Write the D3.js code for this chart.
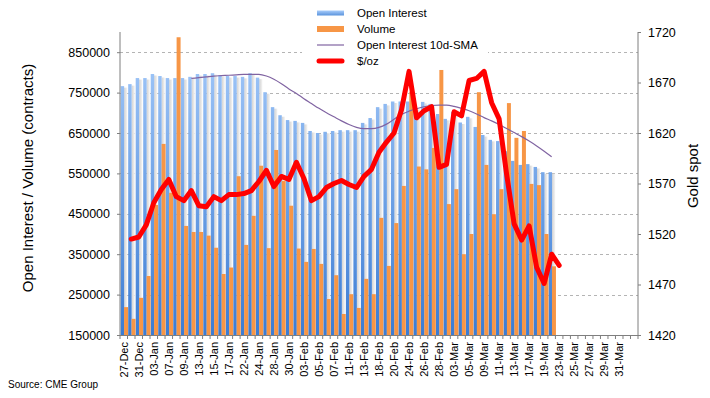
<!DOCTYPE html>
<html>
<head>
<meta charset="utf-8">
<script src="https://cdn.jsdelivr.net/npm/d3@7"></script>
<style>
  body { margin: 0; background: #fff; }
  text { font-family: "Liberation Sans", Arial, Helvetica, sans-serif; fill: #000; }
</style>
</head>
<body>
<div id="chart"></div>
<script>
// category labels (trading days, then empty calendar days at the end)
var dates = ["27-Dec","30-Dec","31-Dec","02-Jan","03-Jan","06-Jan","07-Jan","08-Jan","09-Jan","10-Jan",
  "13-Jan","14-Jan","15-Jan","16-Jan","17-Jan","21-Jan","22-Jan","23-Jan","24-Jan","27-Jan",
  "28-Jan","29-Jan","30-Jan","31-Jan","03-Feb","04-Feb","05-Feb","06-Feb","07-Feb","10-Feb",
  "11-Feb","12-Feb","13-Feb","14-Feb","18-Feb","19-Feb","20-Feb","21-Feb","24-Feb","25-Feb",
  "26-Feb","27-Feb","28-Feb","02-Mar","03-Mar","04-Mar","05-Mar","06-Mar","09-Mar","10-Mar",
  "11-Mar","12-Mar","13-Mar","16-Mar","17-Mar","18-Mar","19-Mar","20-Mar","23-Mar","24-Mar",
  "25-Mar","26-Mar","27-Mar","28-Mar","29-Mar","30-Mar","31-Mar","",""];

// open interest (contracts)
var openInterest = [766000,771000,786000,786000,796000,791000,786000,786000,786000,789000,
  796000,796000,798000,793000,791000,791000,789000,798000,787000,751000,
  714000,694000,682000,680000,675000,655000,650000,653000,655000,657000,
  657000,657000,675000,687000,714000,722000,728000,728000,728000,712000,
  727000,722000,697000,685000,702000,676000,690000,665000,645000,633000,
  630000,605000,581000,571000,573000,566000,553000,553000];

// volume (contracts)
var volume = [219000,190000,242000,296000,472000,623000,502000,887000,420000,405000,
  405000,396000,366000,301000,317000,543000,373000,445000,569000,365000,
  608000,531000,470000,364000,331000,363000,326000,239000,298000,202000,
  251000,217000,289000,251000,440000,321000,427000,519000,752000,567000,
  560000,613000,806000,474000,511000,350000,400000,751000,571000,449000,
  511000,724000,638000,655000,524000,521000,400000,320000];

// open interest 10d-SMA
var oiSma = [null,null,null,null,null,null,null,null,null,785000,
  787000,789000,791000,792000,793000,794000,795000,795000,795000,791000,
  783000,772000,759000,748000,735000,723000,711000,700000,690000,680000,
  671000,664000,661000,661000,664000,672000,684000,696000,704000,710000,
  715000,718000,719000,719000,716000,711000,705000,697000,688000,680000,
  671000,661000,651000,641000,630000,618000,605000,591000];

// gold spot $/oz
var gold = [null,1515,1517,1529,1551,1564,1574,1557,1553,1563,
  1548,1547,1557,1553,1559,1559,1560,1563,1572,1583,
  1567,1577,1574,1591,1575,1553,1557,1566,1570,1573,
  1569,1566,1577,1584,1601,1611,1620,1643,1681,1635,
  1642,1646,1586,1589,1641,1637,1672,1674,1681,1650,
  1634,1579,1530,1514,1528,1487,1471,1500,1489];

var leftTicks = [150000,250000,350000,450000,550000,650000,750000,850000];
var rightTicks = [1420,1470,1520,1570,1620,1670,1720];

var W = 710, H = 398;
var margin = { left: 120, right: 72, top: 32, bottom: 63 };
var x0 = margin.left, x1 = W - margin.right, yTop = margin.top, yBot = H - margin.bottom;

var svg = d3.select("#chart").append("svg")
  .attr("width", W).attr("height", H);

var defs = svg.append("defs");
var blueGrad = defs.append("linearGradient").attr("id", "blueGrad")
  .attr("gradientUnits", "userSpaceOnUse")
  .attr("x1", 0).attr("y1", yTop).attr("x2", 0).attr("y2", yBot);
blueGrad.append("stop").attr("offset", "0%").attr("stop-color", "#a9cdfb");
blueGrad.append("stop").attr("offset", "100%").attr("stop-color", "#3b7cd4");
var shadowGrad = defs.append("linearGradient").attr("id", "shadowGrad")
  .attr("x1", 0).attr("y1", 0).attr("x2", 1).attr("y2", 0);
shadowGrad.append("stop").attr("offset", "0%").attr("stop-color", "#d2d2d2");
shadowGrad.append("stop").attr("offset", "100%").attr("stop-color", "#f5f5f5");
var legGrad = defs.append("linearGradient").attr("id", "legGrad")
  .attr("x1", 0).attr("y1", 0).attr("x2", 0).attr("y2", 1);
legGrad.append("stop").attr("offset", "0%").attr("stop-color", "#a9cdfb");
legGrad.append("stop").attr("offset", "100%").attr("stop-color", "#5a93dc");

var idx = d3.range(dates.length);
var x = d3.scaleBand().domain(idx).range([x0, x1]).padding(0);
var bw = x.bandwidth();

var y = d3.scaleLinear().domain([150000, 900000]).range([yBot, yTop]);
var y2 = d3.scaleLinear().domain([1420, 1720]).range([yBot, yTop]);

// gridlines
svg.append("g")
  .selectAll("line")
  .data(leftTicks.slice(1))
  .enter()
  .append("line")
  .attr("x1", x0).attr("x2", x1)
  .attr("y1", function (d) { return Math.round(y(d)) + 0.5; })
  .attr("y2", function (d) { return Math.round(y(d)) + 0.5; })
  .attr("stroke", "#b4b4b4")
  .attr("stroke-dasharray", "3,3");

// bar shadows
svg.append("g")
  .selectAll("rect")
  .data(openInterest)
  .enter()
  .append("rect")
  .attr("x", function (d, i) { return x(i) + bw * 0.55; })
  .attr("y", function (d) { return y(d) + 1.5; })
  .attr("width", bw * 0.42)
  .attr("height", function (d) { return yBot - y(d) - 1.5; })
  .style("fill", "url(#shadowGrad)");

// open interest bars
svg.append("g")
  .selectAll("rect")
  .data(openInterest)
  .enter()
  .append("rect")
  .attr("x", function (d, i) { return x(i) + bw * 0.09; })
  .attr("y", function (d) { return y(d); })
  .attr("width", bw * 0.46)
  .attr("height", function (d) { return yBot - y(d); })
  .style("fill", "url(#blueGrad)");

// volume bars
svg.append("g")
  .selectAll("rect")
  .data(volume)
  .enter()
  .append("rect")
  .attr("x", function (d, i) { return x(i) + bw * 0.54; })
  .attr("y", function (d) { return y(d); })
  .attr("width", bw * 0.53)
  .attr("height", function (d) { return yBot - y(d); })
  .style("fill", "#f79646");

// 10d-SMA
var smaLine = d3.line()
  .defined(function (d) { return d != null; })
  .x(function (d, i) { return x(i) + bw / 2; })
  .y(function (d) { return y(d); })
  .curve(d3.curveMonotoneX);
svg.append("path")
  .datum(oiSma)
  .attr("d", smaLine)
  .attr("fill", "none")
  .attr("stroke", "#8064a2")
  .attr("stroke-width", 1.2);

// gold
var goldLine = d3.line()
  .defined(function (d) { return d != null; })
  .x(function (d, i) { return x(i) + bw / 2; })
  .y(function (d) { return y2(d); });
svg.append("path")
  .datum(gold)
  .attr("d", goldLine)
  .attr("fill", "none")
  .attr("stroke", "#ff0000")
  .attr("stroke-width", 5)
  .attr("stroke-linejoin", "round")
  .attr("stroke-linecap", "round");

// axes
var axisColor = "#7f7f7f";
var leftAxis = svg.append("g")
  .attr("transform", "translate(" + x0 + ",0)")
  .call(d3.axisLeft(y).tickValues(leftTicks).tickSize(3).tickPadding(7).tickFormat(d3.format("d")));
var rightAxis = svg.append("g")
  .attr("transform", "translate(" + x1 + ",0)")
  .call(d3.axisRight(y2).tickValues(rightTicks).tickSize(3).tickPadding(7).tickFormat(d3.format("d")));
[leftAxis, rightAxis].forEach(function (a) {
  a.select(".domain").attr("stroke", axisColor).attr("d", "M0," + yTop + "V" + yBot);
  a.selectAll(".tick line").attr("stroke", axisColor);
  a.selectAll("text").style("font-size", "12.5px").attr("fill", "#000")
    .style("font-family", "'Liberation Sans', Arial, sans-serif");
});

// bottom axis: ticks between categories, labels on every other day
var bottom = svg.append("g").attr("transform", "translate(0," + yBot + ")");
bottom.append("line").attr("x1", x0).attr("x2", x1).attr("y1", 0.5).attr("y2", 0.5)
  .attr("stroke", axisColor);
bottom.selectAll("line.tk")
  .data(idx.concat([dates.length]))
  .enter()
  .append("line")
  .attr("class", "tk")
  .attr("x1", function (i) { return x0 + i * bw; })
  .attr("x2", function (i) { return x0 + i * bw; })
  .attr("y1", 0).attr("y2", 4)
  .attr("stroke", axisColor);
bottom.selectAll("text")
  .data(idx.filter(function (i) { return i % 2 === 0 && dates[i] !== ""; }))
  .enter()
  .append("text")
  .attr("transform", function (i) { return "translate(" + (x(i) + bw / 2 + 4) + ",7) rotate(-90)"; })
  .style("text-anchor", "end")
  .style("font-size", "11px")
  .text(function (i) { return dates[i]; });

// axis titles
svg.append("text")
  .attr("transform", "translate(33,178) rotate(-90)")
  .style("text-anchor", "middle")
  .style("font-size", "15px")
  .text("Open Interest / Volume (contracts)");
svg.append("text")
  .attr("transform", "translate(698,176) rotate(-90)")
  .style("text-anchor", "middle")
  .style("font-size", "15px")
  .text("Gold spot");
svg.append("text")
  .attr("x", 8).attr("y", 388)
  .style("font-size", "10px")
  .text("Source: CME Group");

// legend
var legend = svg.append("g");
legend.append("rect").attr("x", 302).attr("y", 0).attr("width", 186).attr("height", 68).attr("fill", "#fff");
var items = [
  { name: "Open Interest", type: "oi" },
  { name: "Volume", type: "vol" },
  { name: "Open Interest 10d-SMA", type: "sma" },
  { name: "$/oz", type: "gold" }
];
items.forEach(function (it, k) {
  var cy = 13 + k * 16;
  if (it.type === "oi") {
    legend.append("rect").attr("x", 317).attr("y", cy - 2.5).attr("width", 27).attr("height", 5)
      .attr("fill", "url(#legGrad)");
  } else if (it.type === "vol") {
    legend.append("rect").attr("x", 317).attr("y", cy - 3).attr("width", 27).attr("height", 6)
      .attr("fill", "#f79646");
  } else if (it.type === "sma") {
    legend.append("line").attr("x1", 317).attr("x2", 344).attr("y1", cy).attr("y2", cy)
      .attr("stroke", "#8064a2").attr("stroke-width", 1.2);
  } else {
    legend.append("line").attr("x1", 319).attr("x2", 342).attr("y1", cy).attr("y2", cy)
      .attr("stroke", "#ff0000").attr("stroke-width", 5).attr("stroke-linecap", "round");
  }
  legend.append("text").attr("x", 357).attr("y", cy + 4)
    .style("font-size", "11.5px")
    .text(it.name);
});
</script>
</body>
</html>
